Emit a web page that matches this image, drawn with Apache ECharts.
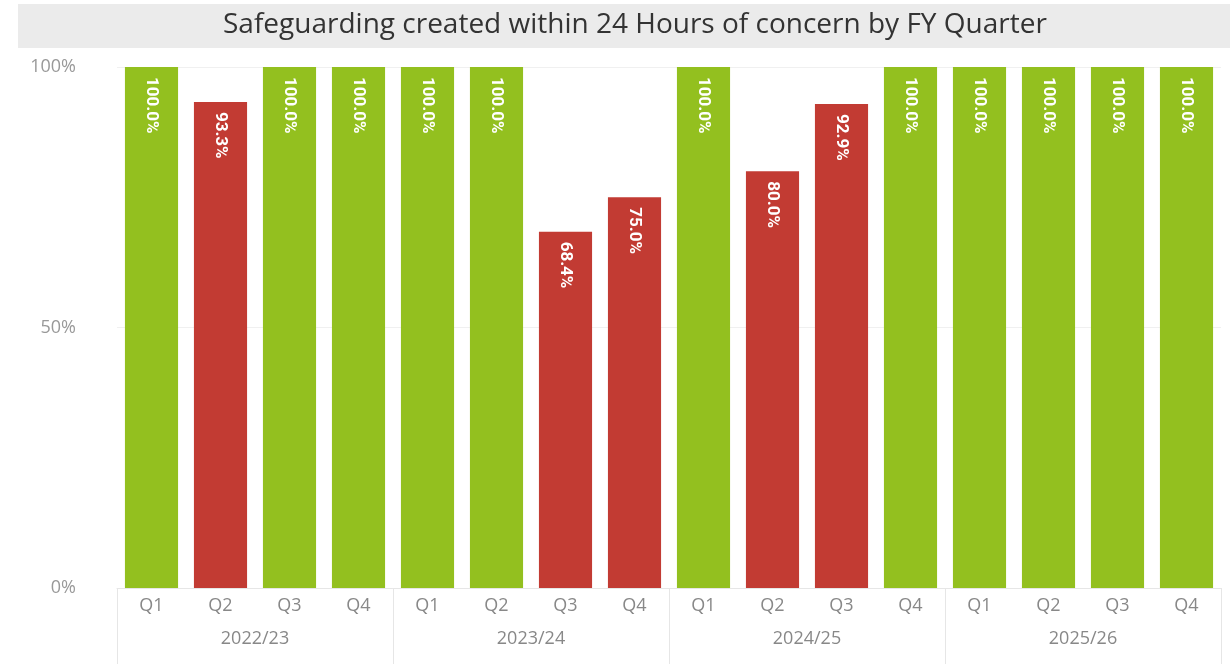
<!DOCTYPE html>
<html>
<head>
<meta charset="utf-8">
<script src="https://cdn.jsdelivr.net/npm/echarts@6/dist/echarts.min.js"></script>
<style>html,body{margin:0;padding:0;background:#fff;}#c{width:1230px;height:670px;}</style>
</head>
<body>
<div id="c"></div>
<script>
const quarters = ['Q1','Q2','Q3','Q4','Q1','Q2','Q3','Q4','Q1','Q2','Q3','Q4','Q1','Q2','Q3','Q4'];
const years = ['2022/23','2023/24','2024/25','2025/26'];
const values = [1.0, 0.933, 1.0, 1.0, 1.0, 1.0, 0.684, 0.75, 1.0, 0.80, 0.929, 1.0, 1.0, 1.0, 1.0, 1.0];
const yTicks = [0, 0.5, 1];

const GREEN = '#93c01f', RED = '#c23b33';
const chart = echarts.init(document.getElementById('c'));
chart.setOption({
  animation: false,
  backgroundColor: '#fff',
  graphic: [{type:'rect', left:18, top:4, shape:{width:1212, height:44}, style:{fill:'#ebebeb'}, z:-1}],
  title: {text:'Safeguarding created within 24 Hours of concern by FY Quarter', left:218, top:6,
    textStyle:{fontFamily:'Open Sans', fontSize:28, fontWeight:'normal', color:'#333'}},
  grid: {left:117, right:9, top:67, bottom:82},
  xAxis: [{
    type:'category', data:quarters, position:'bottom',
    axisLine:{show:true, lineStyle:{color:'#e6e6e6'}}, axisTick:{show:false},
    axisLabel:{color:'#888', fontFamily:'Open Sans', fontSize:18, margin:9}
  },{
    type:'category', data:years, position:'bottom',
    axisLine:{show:false}, axisTick:{show:true, alignWithLabel:false, interval:0, length:76, inside:false, lineStyle:{color:'#e6e6e6'}},
    axisLabel:{color:'#888', fontFamily:'Open Sans', fontSize:18, margin:42}
  }],
  yAxis: {type:'value', min:0, max:1, interval:0.5,
    axisLine:{show:false}, axisTick:{show:false},
    splitLine:{lineStyle:{color:'#f0f0f0'}},
    axisLabel:{color:'#999', fontFamily:'Open Sans', fontSize:18, margin:41,
      formatter: v => yTicks.includes(v) ? Math.round(v*100)+'%' : ''}},
  series: [{
    type:'bar', xAxisIndex:0, data:values, barWidth:'77%',
    itemStyle:{color: p => p.value >= 1 ? GREEN : RED},
    label:{show:true, position:'insideTop', rotate:-90, distance:10, align:'left', verticalAlign:'middle',
      color:'#fff', fontFamily:'Roboto', fontWeight:'bold', fontSize:17,
      formatter: p => (p.value*100).toFixed(1)+'%'}
  }]
});
</script>
</body>
</html>
